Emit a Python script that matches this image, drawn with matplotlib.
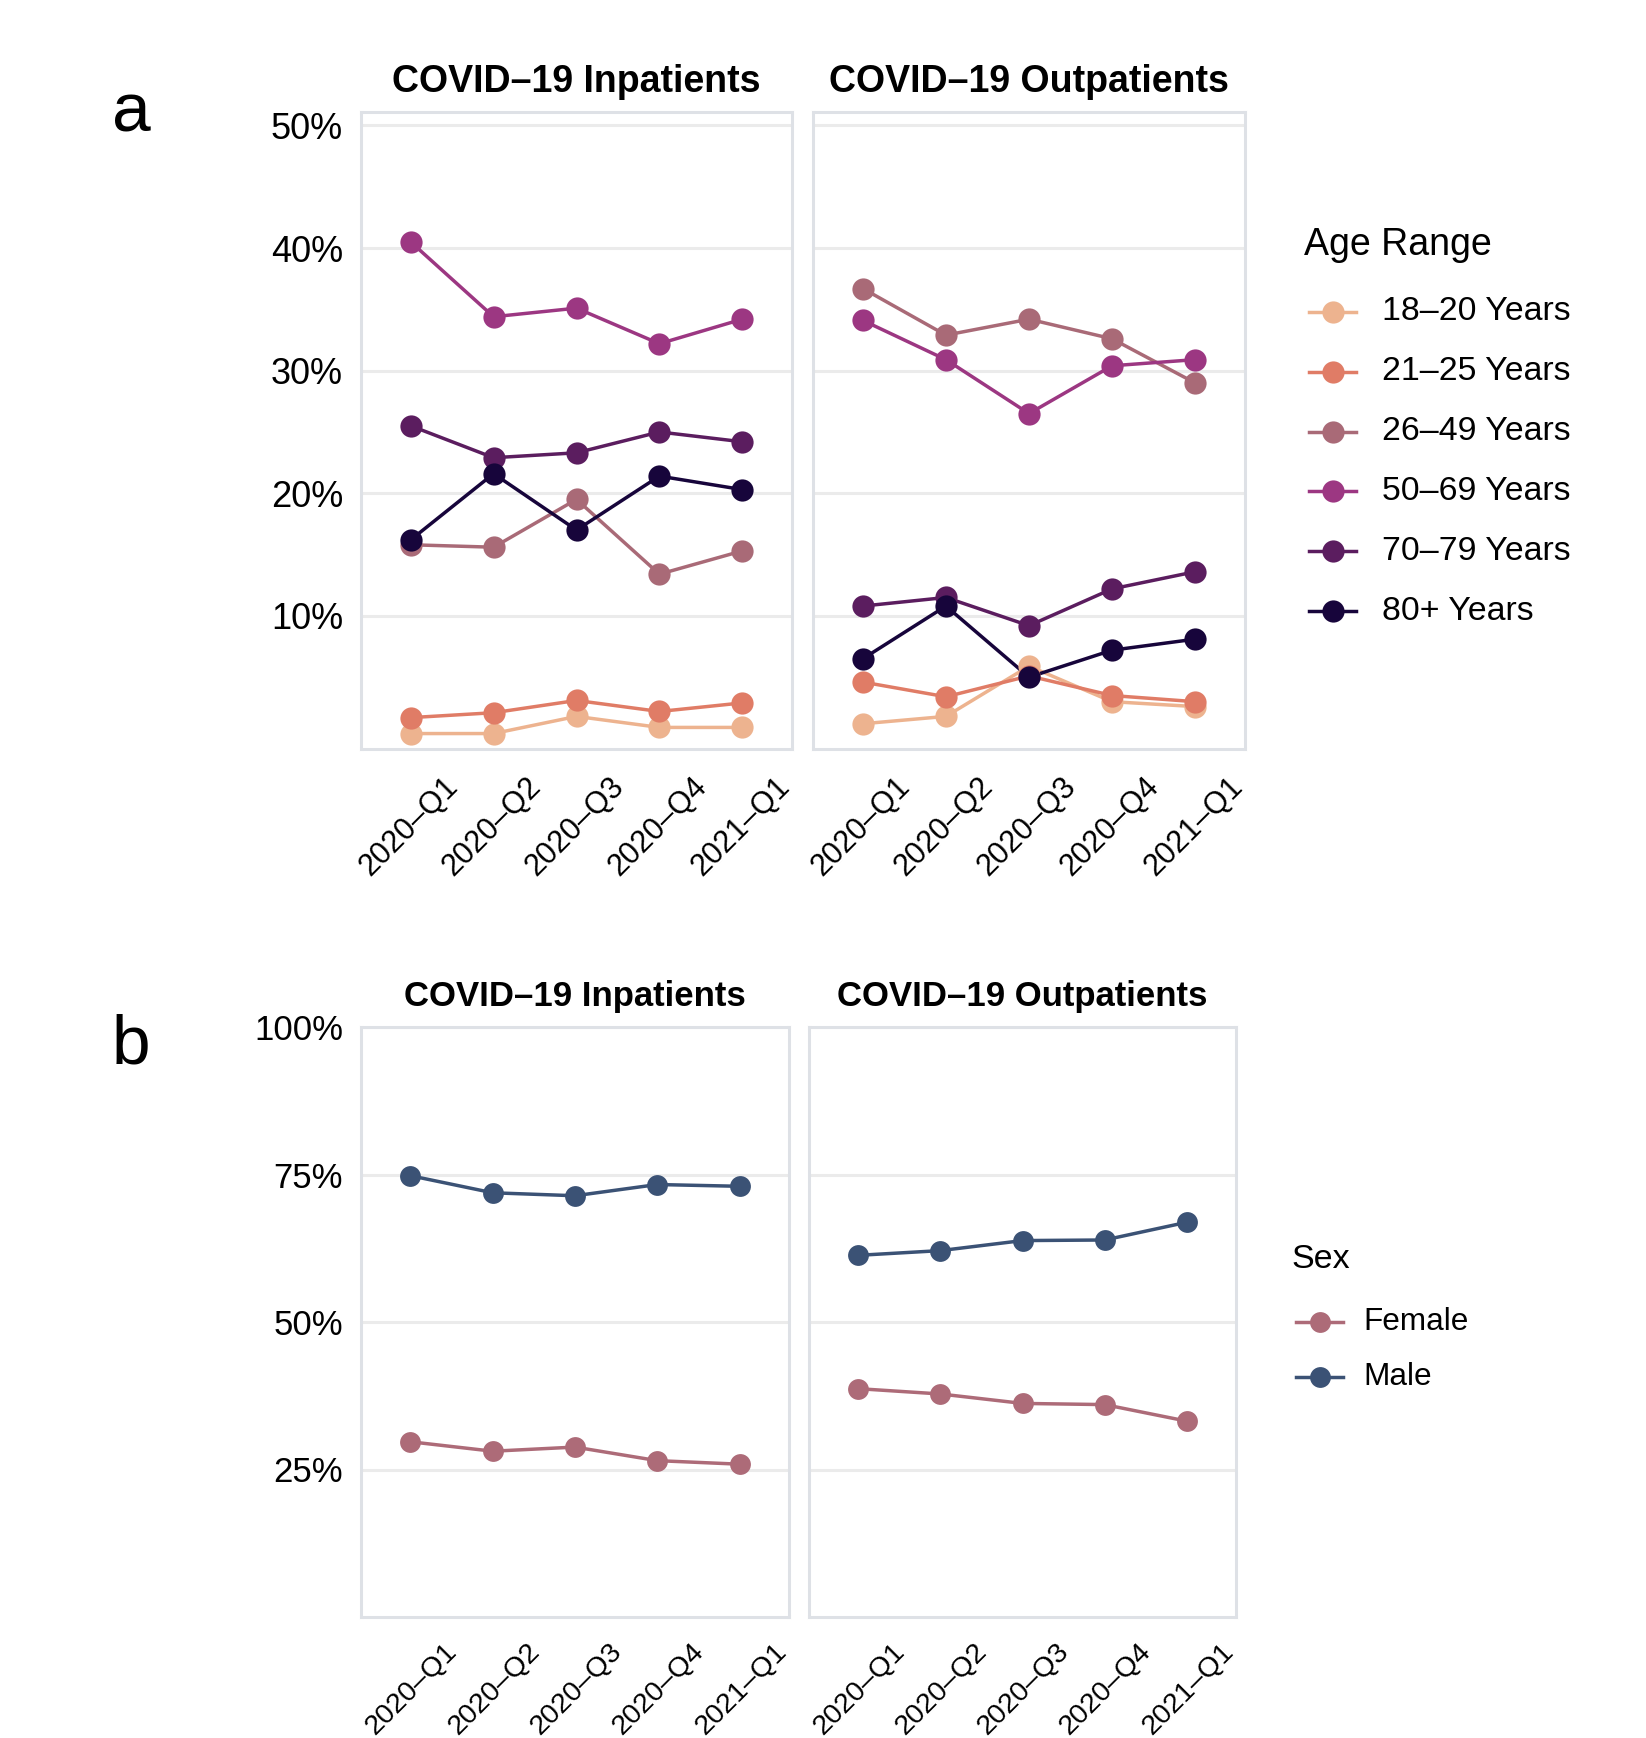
import matplotlib
matplotlib.use("Agg")
import matplotlib.pyplot as plt
import matplotlib.transforms as mtransforms
from matplotlib.lines import Line2D

plt.rcParams['font.family'] = ['Liberation Sans', 'DejaVu Sans']

quarters = ['2020–Q1', '2020–Q2', '2020–Q3', '2020–Q4', '2021–Q1']
age_groups = ['18–20 Years', '21–25 Years', '26–49 Years', '50–69 Years', '70–79 Years', '80+ Years']
age_colors = ['#EDB38F', '#E07C66', '#A96A77', '#9C3782', '#5B1D5F', '#17053B']

# percent of patients per age group, rows follow age_groups
inpatient_age = [
    [0.4, 0.4, 1.8, 0.9, 0.9],
    [1.7, 2.1, 3.1, 2.2, 2.9],
    [15.8, 15.6, 19.5, 13.4, 15.3],
    [40.5, 34.4, 35.1, 32.2, 34.2],
    [25.5, 22.9, 23.3, 25.0, 24.2],
    [16.2, 21.6, 17.0, 21.4, 20.3],
]
outpatient_age = [
    [1.2, 1.8, 5.9, 3.0, 2.6],
    [4.6, 3.4, 5.1, 3.5, 3.0],
    [36.7, 32.9, 34.2, 32.6, 29.0],
    [34.1, 30.9, 26.5, 30.4, 30.9],
    [10.8, 11.5, 9.2, 12.2, 13.6],
    [6.5, 10.8, 5.0, 7.2, 8.1],
]

sexes = ['Female', 'Male']
sex_colors = ['#AD6B78', '#3B5275']
inpatient_sex = [
    [29.7, 28.1, 28.8, 26.5, 25.9],
    [74.8, 71.9, 71.4, 73.3, 73.0],
]
outpatient_sex = [
    [38.7, 37.8, 36.2, 36.0, 33.2],
    [61.3, 62.1, 63.8, 63.9, 66.9],
]

W, H = 1646, 1738
fig = plt.figure(figsize=(W / 100, H / 100), dpi=100)
fig.patch.set_facecolor('white')


def box(l, r, t, b):
    return [l / W, 1 - b / H, (r - l) / W, (b - t) / H]


def panel(rect, data, colors, ylim, yticks, ylabels, ms, tick_fs, show_y, xfs, xpad):
    ax = fig.add_axes(rect)
    x = list(range(len(quarters)))
    for vals, c in zip(data, colors):
        ax.plot(x, vals, color=c, lw=2.5, zorder=2, solid_capstyle='butt')
    for vals, c in zip(data, colors):
        ax.plot(x, vals, 'o', color=c, ms=ms, mec='none', zorder=3)
    ax.set_xlim(-0.6, 4.6)
    ax.set_ylim(*ylim)
    ax.set_yticks(yticks)
    ax.grid(axis='y', color='#EBEBEB', lw=2.2, zorder=0)
    ax.set_axisbelow(True)
    for s in ax.spines.values():
        s.set_color('#DEE1E6')
        s.set_linewidth(2.2)
    ax.tick_params(length=0, pad=13, labelsize=tick_fs)
    if show_y:
        ax.set_yticklabels(ylabels)
    else:
        ax.set_yticklabels([])
    ax.set_xticks(x)
    ax.set_xticklabels(quarters, rotation=45, ha='right', va='center',
                       rotation_mode='anchor', fontsize=xfs)
    ax.tick_params(axis='x', pad=xpad)
    off = mtransforms.ScaledTranslation(0.43, 0, fig.dpi_scale_trans)
    for lab in ax.get_xticklabels():
        lab.set_transform(lab.get_transform() + off)
    return ax


yt_a = [10, 20, 30, 40, 50]
panel(box(361, 792, 112, 749), inpatient_age, age_colors, (-0.86, 51.1), yt_a,
      [f'{v}%' for v in yt_a], 16, 26, True, 22, 24)
panel(box(813, 1245, 112, 749), outpatient_age, age_colors, (-0.86, 51.1), yt_a,
      [f'{v}%' for v in yt_a], 16, 26, False, 22, 24)

yt_b = [25, 50, 75, 100]
panel(box(361, 789, 1027, 1617), inpatient_sex, sex_colors, (0, 100), yt_b,
      [f'{v}%' for v in yt_b], 15, 25, True, 20.5, 22)
panel(box(809, 1236, 1027, 1617), outpatient_sex, sex_colors, (0, 100), yt_b,
      [f'{v}%' for v in yt_b], 15, 25, False, 20.5, 22)

# facet titles
fig.text(576 / W, 1 - 82 / H, 'COVID–19 Inpatients', ha='center', va='center',
         fontsize=27, fontweight='bold')
fig.text(1029 / W, 1 - 82 / H, 'COVID–19 Outpatients', ha='center', va='center',
         fontsize=27, fontweight='bold')
fig.text(575 / W, 1 - 997 / H, 'COVID–19 Inpatients', ha='center', va='center',
         fontsize=25, fontweight='bold')
fig.text(1022 / W, 1 - 997 / H, 'COVID–19 Outpatients', ha='center', va='center',
         fontsize=25, fontweight='bold')

# panel letters
fig.text(131 / W, 1 - 113 / H, 'a', ha='center', va='center', fontsize=50)
fig.text(131 / W, 1 - 1045 / H, 'b', ha='center', va='center', fontsize=50)


def legend(title, names, colors, x0, ty, y0, dy, key_w, lab_x, title_fs, lab_fs, ms):
    fig.text(x0 / W, 1 - ty / H, title, ha='left', va='center', fontsize=title_fs)
    for i, (n, c) in enumerate(zip(names, colors)):
        yy = 1 - (y0 + i * dy) / H
        fig.add_artist(Line2D([(x0 + 5) / W, (x0 + 5 + key_w) / W], [yy, yy],
                              color=c, lw=2.5, transform=fig.transFigure))
        fig.add_artist(Line2D([(x0 + 5 + key_w / 2) / W], [yy], marker='o', ms=ms,
                              mec='none', color=c, transform=fig.transFigure))
        fig.text(lab_x / W, yy, n, ha='left', va='center', fontsize=lab_fs)


legend('Age Range', age_groups, age_colors, 1304, 245, 312, 59.8, 47, 1382, 27, 24.4, 16)
legend('Sex', sexes, sex_colors, 1291, 1260, 1322, 55, 47, 1363, 24.5, 22.7, 15)

fig.savefig('out.png', dpi=100, facecolor='white')
